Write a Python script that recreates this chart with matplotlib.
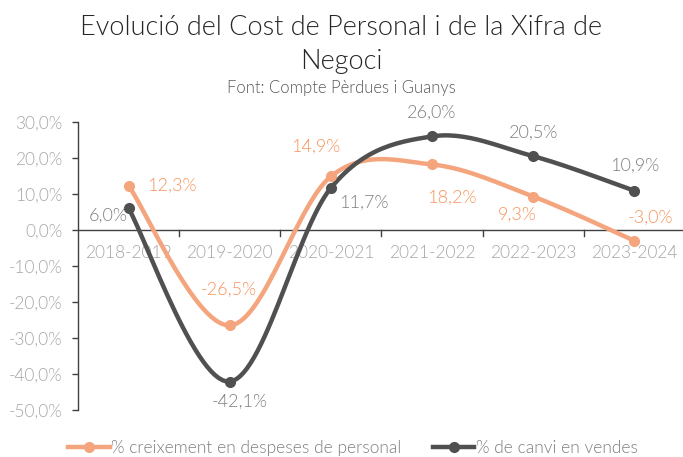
import matplotlib
matplotlib.use('Agg')
import matplotlib.pyplot as plt
import numpy as np

plt.rcParams['font.family'] = ['Lato', 'DejaVu Sans']

periods = ['2018-2019', '2019-2020', '2020-2021', '2021-2022', '2022-2023', '2023-2024']
personal = [12.3, -26.5, 14.9, 18.2, 9.3, -3.0]
vendes = [6.0, -42.1, 11.7, 26.0, 20.5, 10.9]
yticks = [30, 20, 10, 0, -10, -20, -30, -40, -50]

orange = '#F4A57D'
orange_txt = '#F7935C'
grey = '#505050'
grey_txt = '#7F7F7F'
axis_txt = '#A6A6A6'
W = 300  # Lato Light


def smooth(y, n=30):
    # bezier smoothing like office charts
    x = np.arange(len(y), dtype=float)
    y = np.asarray(y, dtype=float)
    xs, ys = [], []
    for i in range(len(y) - 1):
        p0 = (x[max(i - 1, 0)], y[max(i - 1, 0)])
        p1 = (x[i], y[i])
        p2 = (x[i + 1], y[i + 1])
        p3 = (x[min(i + 2, len(y) - 1)], y[min(i + 2, len(y) - 1)])
        c1 = (p1[0] + (p2[0] - p0[0]) / 6, p1[1] + (p2[1] - p0[1]) / 6)
        c2 = (p2[0] - (p3[0] - p1[0]) / 6, p2[1] - (p3[1] - p1[1]) / 6)
        t = np.linspace(0, 1, n)
        for a, b, c, d, out in ((p1[0], c1[0], c2[0], p2[0], xs), (p1[1], c1[1], c2[1], p2[1], ys)):
            out.extend((1 - t) ** 3 * a + 3 * (1 - t) ** 2 * t * b + 3 * (1 - t) * t ** 2 * c + t ** 3 * d)
    return np.array(xs), np.array(ys)


fig = plt.figure(figsize=(6.83, 4.57), dpi=100)
ax = fig.add_axes([78 / 683, 47 / 457, 607 / 683, 288 / 457])

x = np.arange(len(periods))
sx, sy = smooth(personal)
ax.plot(sx, sy, color=orange, lw=3.2, solid_capstyle='round', zorder=3)
ax.plot(x, personal, 'o', color=orange, ms=7, zorder=4)
sx, sy = smooth(vendes)
ax.plot(sx, sy, color=grey, lw=3.2, solid_capstyle='round', zorder=3)
ax.plot(x, vendes, 'o', color=grey, ms=7, zorder=4)

ax.set_xlim(-0.5, 5.5)
ax.set_ylim(-50, 30)
ax.set_yticks(yticks)
ax.set_yticklabels([('%.1f%%' % v).replace('.', ',') for v in yticks])
ax.tick_params(axis='y', labelsize=12.5, length=4, width=1, direction='out', pad=7, color='#404040', labelcolor=axis_txt)
for lbl in ax.get_yticklabels():
    lbl.set_fontweight(W)

for s in ['top', 'right', 'bottom']:
    ax.spines[s].set_visible(False)
ax.spines['left'].set_color('#404040')
ax.spines['left'].set_linewidth(1)
ax.axhline(0, color='#404040', lw=1, zorder=2)
for b in np.arange(0.5, 5, 1):
    ax.plot([b, b], [0, -1.7], color='#404040', lw=1, zorder=2)
ax.set_xticks([])
for i, p in enumerate(periods):
    ax.text(i, -6.5, p, ha='center', va='center', color=axis_txt, fontsize=12.5, fontweight=W, zorder=1)

# data labels, offsets in points from the marker
p_off = [(13, 0, 'left'), (-1, 26, 'center'), (-11, 21, 'center'), (14, -24, 'center'), (-11.5, -13, 'center'), (11.5, 16.5, 'center')]
v_off = [(-15, -5, 'center'), (7, -14.5, 'center'), (24, -11, 'center'), (0, 17, 'center'), (0, 17, 'center'), (0, 18, 'center')]
for i in range(len(periods)):
    dx, dy, ha = p_off[i]
    ax.annotate(('%.1f%%' % personal[i]).replace('.', ','), (i, personal[i]), xytext=(dx, dy),
                textcoords='offset points', ha=ha, va='center', color=orange_txt, fontsize=13, fontweight=W, zorder=5)
    dx, dy, ha = v_off[i]
    ax.annotate(('%.1f%%' % vendes[i]).replace('.', ','), (i, vendes[i]), xytext=(dx, dy),
                textcoords='offset points', ha=ha, va='center', color=grey_txt, fontsize=13, fontweight=W, zorder=5)

fig.text(0.5, 0.923, 'Evolució del Cost de Personal i de la Xifra de', ha='center', va='baseline', fontsize=19.5, fontweight=W, color='#262626')
fig.text(0.5, 0.849, 'Negoci', ha='center', va='baseline', fontsize=19.5, fontweight=W, color='#262626')
fig.text(0.5, 0.796, 'Font: Compte Pèrdues i Guanys', ha='center', va='baseline', fontsize=12, fontweight=W, color='#595959')

h1, = ax.plot([], [], '-o', color=orange, lw=3.2, ms=7)
h2, = ax.plot([], [], '-o', color=grey, lw=3.2, ms=7)
leg = fig.legend([h1, h2], ['% creixement en despeses de personal', '% de canvi en vendes'],
                 loc='center', bbox_to_anchor=(353 / 683, 1 - 448 / 457), ncol=2, frameon=False, fontsize=12.5,
                 handlelength=2.4, handletextpad=0.1, columnspacing=1.8, borderpad=0, borderaxespad=0)
for t in leg.get_texts():
    t.set_color(grey_txt)
    t.set_fontweight(W)

fig.savefig('out.png', dpi=100)
